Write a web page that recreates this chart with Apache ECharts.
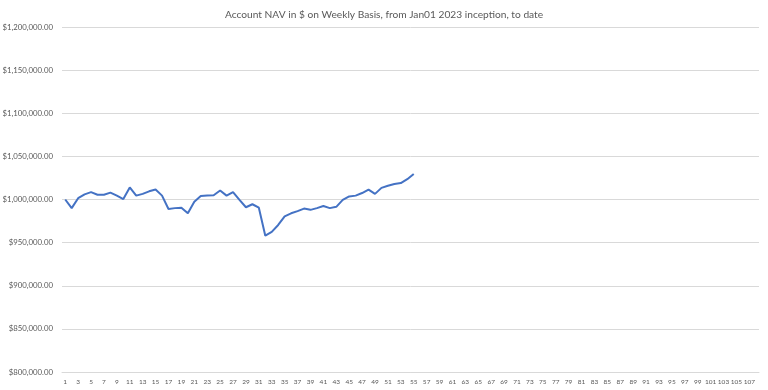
<!DOCTYPE html>
<html><head><meta charset="utf-8">
<script src="https://cdn.jsdelivr.net/npm/echarts@6/dist/echarts.min.js"></script>
<style>html,body{margin:0;padding:0;background:#fff}#c{width:768px;height:390px}</style>
</head><body><div id="c"></div>
<script>
const weeks = Array.from({length: 108}, (_, i) => String(i + 1));
const nav = [
  1000000, 990000, 1001500, 1006000, 1008500, 1005500, 1005500, 1008000, 1004500, 1000500,
  1014000, 1004500, 1006500, 1009500, 1011500, 1004500, 989000, 990000, 990500, 984000,
  997500, 1004000, 1004500, 1005000, 1010500, 1004500, 1008500, 999500, 991000, 994500,
  990500, 958000, 962500, 970500, 980500, 984000, 986500, 989500, 988000, 990000,
  992500, 990000, 991500, 999500, 1003500, 1004500, 1007500, 1011500, 1006500, 1013500,
  1016000, 1018000, 1019000, 1023500, 1029500
];
const title = 'Account NAV in $ on Weekly Basis, from Jan01 2023 inception, to date';
const yMin = 800000, yMax = 1200000, yStep = 50000;

const chart = echarts.init(document.getElementById('c'), null, {renderer: 'canvas'});
chart.setOption({
  animation: false,
  backgroundColor: '#fff',
  title: {
    text: title, left: 'center', top: 5,
    textStyle: {fontFamily: 'Lato', fontSize: 10.2, fontWeight: 'normal', color: '#595959'}
  },
  grid: {left: 62, right: 9, top: 27, bottom: 18, containLabel: false, outerBoundsMode: 'none'},
  xAxis: {
    type: 'category', data: weeks, boundaryGap: true,
    axisLine: {show: true, lineStyle: {color: '#d9d9d9'}},
    axisTick: {show: false},
    axisLabel: {interval: 1, fontFamily: 'Lato', fontSize: 6.5, color: '#595959', margin: 6}
  },
  yAxis: {
    type: 'value', min: yMin, max: yMax, interval: yStep,
    axisLine: {show: false}, axisTick: {show: false},
    splitLine: {lineStyle: {color: '#d9d9d9', width: 1}},
    axisLabel: {
      fontFamily: 'Lato', fontSize: 7.8, color: '#595959', margin: 9,
      formatter: v => '$' + v.toLocaleString('en-US', {minimumFractionDigits: 2, maximumFractionDigits: 2})
    }
  },
  series: [{
    type: 'line', data: nav, showSymbol: false, symbol: 'none',
    lineStyle: {color: '#4472C4', width: 2}, itemStyle: {color: '#4472C4'}
  }]
});
</script></body></html>
